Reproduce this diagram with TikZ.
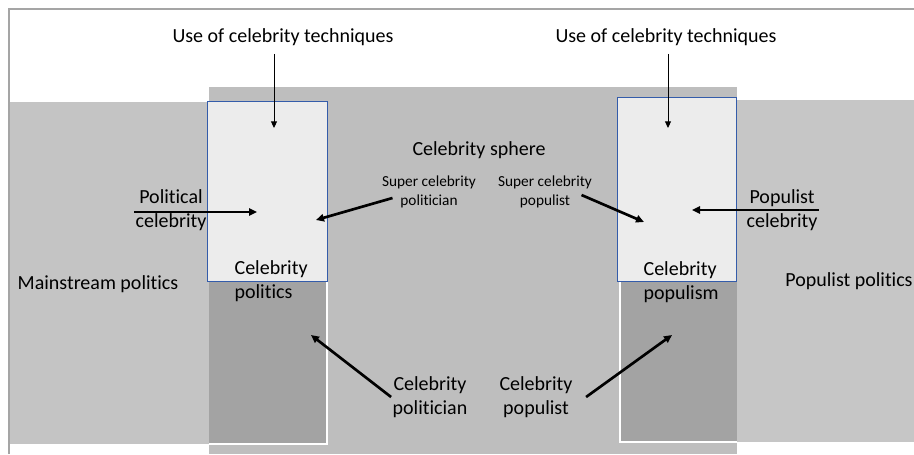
\documentclass[tikz,border=0pt]{standalone}
\usepackage{fontspec}
\setmainfont[Ligatures=NoCommon]{Carlito}
\definecolor{mainpolgray}{RGB}{196, 196, 196}
\definecolor{spheregray}{RGB}{190, 190, 190}
\definecolor{poppolgray}{RGB}{198, 198, 198}
\definecolor{overlapgray}{RGB}{163, 163, 163}
\definecolor{techgray}{RGB}{236, 236, 236}
\definecolor{techblue}{RGB}{52, 92, 170}
\definecolor{framegray}{RGB}{165, 165, 165}
\usepackage{tikz}
\usetikzlibrary{arrows.meta, positioning, calc}

\begin{document}
\begin{tikzpicture}[x=0.75pt, y=-0.75pt,
  lbl/.style={font=\fontsize{15}{18}\selectfont, align=center, inner sep=1pt},
  smalllbl/.style={font=\fontsize{11.5}{14}\selectfont, align=center, inner sep=1pt},
  techbox/.style={draw=techblue, fill=techgray, line width=1pt, inner sep=0pt, anchor=north west},
  thickarrow/.style={-{Triangle[length=6pt, width=5.5pt]}, line width=2pt},
  thinarrow/.style={-{Triangle[length=5pt, width=4.5pt]}, line width=0.7pt}]
  \useasboundingbox (0,0) rectangle (914,454);
  \fill[white] (0,0) rectangle (914,454);
  \fill[mainpolgray] (9,102) rectangle (327,444);
  \fill[spheregray] (209,87) rectangle (737,454);
  \fill[poppolgray] (620,100) rectangle (914,442);
  \fill[overlapgray] (209,102) rectangle (327,444);
  \fill[overlapgray] (620,100) rectangle (737,442);
  \draw[white, line width=1pt] (209,444) -- (327,444) -- (327,102);
  \draw[white, line width=1pt] (620,100) -- (620,442) -- (737,442);
  \draw[framegray, line width=1pt] (9,454) -- (9,9) -- (914,9);

  \node[techbox, minimum width=90pt, minimum height=135pt] (polbox) at (207,101) {};
  \node[techbox, minimum width=89.25pt, minimum height=138pt] (popbox) at (617,97) {};

  \node[lbl] (techl) at (283,37) {Use of celebrity techniques};
  \node[lbl] (techr) at (666,37) {Use of celebrity techniques};
  \node[lbl] (sphere) at (479,150) {Celebrity sphere};
  \node[smalllbl] (spol) at (429,192) {Super celebrity\\politician};
  \node[smalllbl] (spop) at (545,192) {Super celebrity\\populist};
  \node[lbl] (polcel) at (171,210) {Political\\celebrity};
  \node[lbl] (popcel) at (782,210) {Populist\\celebrity};
  \node[lbl] (mainpol) at (98,284) {Mainstream politics};
  \node[lbl] (poppol) at (849,281) {Populist politics};
  \node[lbl, align=left, anchor=west] (celpol) at (233,281) {Celebrity\\politics};
  \node[lbl, align=left, anchor=west] (celpop) at (642,282) {Celebrity\\populism};
  \node[lbl] (cpol) at (430,397) {Celebrity\\politician};
  \node[lbl] (cpop) at (536,397) {Celebrity\\populist};

  \coordinate (poltop) at (274,128);
  \coordinate (poptop) at (668,128);
  \coordinate (polmid) at (257,212);
  \coordinate (popmid) at (692,210);
  \coordinate (polside) at (316,220);
  \coordinate (popside) at (644,222);
  \coordinate (polbot) at (311,335);
  \coordinate (popbot) at (672,335);

  \draw[thinarrow] ([yshift=-5pt]techl.south -| poltop) -- (poltop);
  \draw[thinarrow] ([yshift=-5pt]techr.south -| poptop) -- (poptop);
  \draw[thickarrow] (polcel.west |- polmid) -- (polmid);
  \draw[thickarrow] (popcel.east |- popmid) -- (popmid);
  \draw[thickarrow] ($(spol.west)+(12,6)$) -- (polside);
  \draw[thickarrow] ($(spop.east)+(-12,3)$) -- (popside);
  \draw[thickarrow] (cpol.west) -- (polbot);
  \draw[thickarrow] ($(cpop.east)+(12,0)$) -- (popbot);
\end{tikzpicture}
\end{document}
